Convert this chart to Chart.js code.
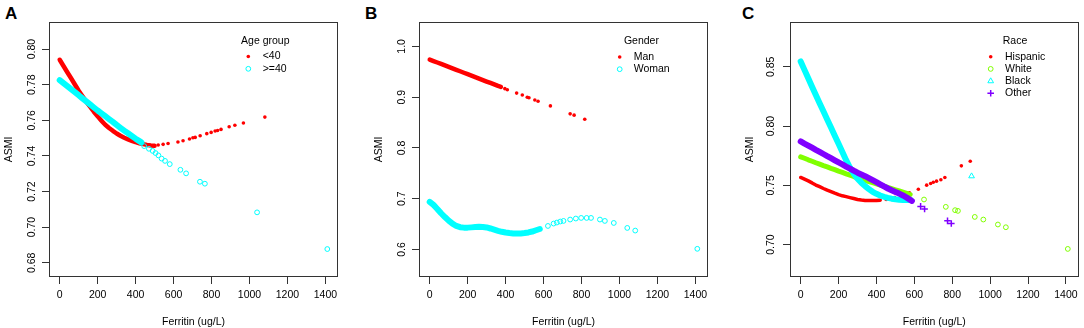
<!DOCTYPE html>
<html>
<head>
<meta charset="utf-8">
<script src="https://cdn.jsdelivr.net/npm/chart.js@4.4.1/dist/chart.umd.min.js"></script>
<style>
  body { margin: 0; background: #fff; width: 1084px; height: 328px; position: relative; overflow: hidden; }
  canvas { position: absolute; top: 0; }
  .tag { position: absolute; top: 5px; font: bold 17px/17px 'Liberation Sans', Arial, sans-serif; color: #000; }
</style>
</head>
<body>
<div class="tag" style="left:5px">A</div>
<div class="tag" style="left:365px">B</div>
<div class="tag" style="left:742px">C</div>
<canvas id="chartA" width="343" height="328" style="left:0px"></canvas>
<canvas id="chartB" width="343" height="328" style="left:370px"></canvas>
<canvas id="chartC" width="343" height="328" style="left:741px"></canvas>
<script>
// shared x axis
var xTicks = [0, 200, 400, 600, 800, 1000, 1200, 1400];

// ---- A: age group ----
var ageTicks = [0.68, 0.70, 0.72, 0.74, 0.76, 0.78, 0.80];
var ageLabels = ['<40', '>=40'];
var under40BandX = [0, 20, 40, 60, 80, 100, 120, 140, 160, 180, 200, 220, 240, 260, 280, 300, 320, 340, 360, 380, 400, 420, 440, 460, 480, 500];
var under40BandY = [0.7940, 0.7905, 0.7870, 0.7836, 0.7801, 0.7766, 0.7735, 0.7705, 0.7676, 0.7648, 0.7622, 0.7598, 0.7575, 0.7557, 0.7541, 0.7526, 0.7513, 0.7502, 0.7493, 0.7485, 0.7477, 0.7471, 0.7466, 0.7462, 0.7459, 0.7457];
var under40TailX = [519, 545, 571, 623, 650, 684, 702, 714, 740, 775, 798, 819, 832, 850, 893, 923, 968, 1081];
var under40TailY = [0.7461, 0.7465, 0.7470, 0.7478, 0.7485, 0.7495, 0.7502, 0.7504, 0.7513, 0.7525, 0.7532, 0.7540, 0.7543, 0.7549, 0.7564, 0.7572, 0.7585, 0.7618];
var over40BandX = [0, 20, 40, 60, 80, 100, 120, 140, 160, 180, 200, 220, 240, 260, 280, 300, 320, 340, 360, 380, 400, 420, 430];
var over40BandY = [0.7826, 0.7809, 0.7792, 0.7775, 0.7758, 0.7741, 0.7723, 0.7706, 0.7689, 0.7672, 0.7655, 0.7639, 0.7623, 0.7607, 0.7591, 0.7574, 0.7558, 0.7542, 0.7527, 0.7512, 0.7497, 0.7483, 0.7476];
var over40TailX = [445, 470, 490, 505, 520, 537, 555, 580, 636, 666, 739, 765, 1040, 1410];
var over40TailY = [0.7455, 0.7440, 0.7428, 0.7416, 0.7403, 0.7385, 0.7372, 0.7354, 0.7322, 0.7302, 0.7255, 0.7244, 0.7083, 0.6877];

// ---- B: gender ----
var genderTicks = [0.6, 0.7, 0.8, 0.9, 1.0];
var genderLabels = ['Man', 'Woman'];
var manBandX = [0, 20, 40, 60, 80, 100, 120, 140, 160, 180, 200, 220, 240, 260, 280, 300, 320, 340, 360, 375];
var manBandY = [0.9740, 0.9711, 0.9683, 0.9654, 0.9625, 0.9596, 0.9567, 0.9539, 0.9510, 0.9481, 0.9452, 0.9424, 0.9395, 0.9366, 0.9337, 0.9308, 0.9280, 0.9251, 0.9222, 0.9204];
var manTailX = [396, 409, 458, 488, 514, 523, 554, 571, 636, 740, 761, 817];
var manTailY = [0.9168, 0.9146, 0.9080, 0.9044, 0.8998, 0.8988, 0.8945, 0.8920, 0.8828, 0.8672, 0.8646, 0.8565];
var womanBandX = [0, 20, 40, 60, 80, 100, 120, 140, 160, 180, 200, 220, 240, 260, 280, 300, 320, 340, 360, 380, 400, 420, 440, 460, 480, 500, 520, 540, 560, 580];
var womanBandY = [0.6940, 0.6880, 0.6800, 0.6715, 0.6640, 0.6570, 0.6510, 0.6465, 0.6440, 0.6432, 0.6432, 0.6437, 0.6443, 0.6447, 0.6445, 0.6435, 0.6415, 0.6392, 0.6370, 0.6350, 0.6335, 0.6325, 0.6318, 0.6316, 0.6318, 0.6325, 0.6337, 0.6355, 0.6380, 0.6405];
var womanTailX = [623, 653, 670, 688, 705, 740, 770, 798, 827, 850, 897, 923, 970, 1041, 1083, 1410];
var womanTailY = [0.6465, 0.6512, 0.6532, 0.6552, 0.6564, 0.6591, 0.6611, 0.6623, 0.6623, 0.6623, 0.6591, 0.6564, 0.6524, 0.6426, 0.6374, 0.6015];

// ---- C: race ----
var raceTicks = [0.70, 0.75, 0.80, 0.85];
var raceLabels = ['Hispanic', 'White', 'Black', 'Other'];
var hispanicBandX = [0, 20, 40, 60, 80, 100, 120, 140, 160, 180, 200, 220, 240, 260, 280, 300, 320, 340, 360, 380, 400, 420];
var hispanicBandY = [0.7566, 0.7552, 0.7537, 0.7520, 0.7502, 0.7488, 0.7473, 0.7459, 0.7446, 0.7433, 0.7421, 0.7411, 0.7404, 0.7396, 0.7388, 0.7380, 0.7375, 0.7372, 0.7371, 0.7371, 0.7372, 0.7374];
var hispanicTailX = [451, 496, 574, 621, 665, 686, 700, 717, 740, 761, 848, 895];
var hispanicTailY = [0.7380, 0.7397, 0.7436, 0.7467, 0.7501, 0.7515, 0.7526, 0.7535, 0.7547, 0.7566, 0.7664, 0.7703];
var whiteBandX = [0, 20, 40, 60, 80, 100, 120, 140, 160, 180, 200, 220, 240, 260, 280, 300, 320, 340, 360, 380, 400, 420, 440, 460, 480, 500, 520, 540, 560, 578];
var whiteBandY = [0.7740, 0.7728, 0.7715, 0.7703, 0.7690, 0.7678, 0.7666, 0.7655, 0.7643, 0.7632, 0.7620, 0.7609, 0.7597, 0.7586, 0.7574, 0.7563, 0.7553, 0.7542, 0.7532, 0.7522, 0.7512, 0.7502, 0.7492, 0.7482, 0.7472, 0.7462, 0.7452, 0.7442, 0.7432, 0.7422];
var whiteTailX = [651, 766, 815, 830, 919, 964, 1041, 1083, 1410];
var whiteTailY = [0.7380, 0.7318, 0.7290, 0.7284, 0.7233, 0.7211, 0.7169, 0.7146, 0.6963];
var blackBandX = [0, 20, 40, 60, 80, 100, 120, 140, 160, 180, 200, 220, 240, 260, 280, 300, 320, 340, 360, 380, 400, 420, 440, 460, 480, 500, 520, 540, 560, 580];
var blackBandY = [0.8545, 0.8474, 0.8403, 0.8332, 0.8262, 0.8192, 0.8124, 0.8055, 0.7987, 0.7918, 0.7850, 0.7780, 0.7712, 0.7650, 0.7598, 0.7556, 0.7522, 0.7493, 0.7468, 0.7445, 0.7428, 0.7414, 0.7403, 0.7394, 0.7387, 0.7382, 0.7378, 0.7376, 0.7375, 0.7375];
var blackTailX = [902];
var blackTailY = [0.7577];
var otherBandX = [0, 20, 40, 60, 80, 100, 120, 140, 160, 180, 200, 220, 240, 260, 280, 300, 320, 340, 360, 380, 400, 420, 440, 460, 480, 500, 520, 540, 560, 587];
var otherBandY = [0.7870, 0.7852, 0.7835, 0.7817, 0.7799, 0.7782, 0.7764, 0.7746, 0.7729, 0.7711, 0.7693, 0.7676, 0.7658, 0.7641, 0.7623, 0.7606, 0.7592, 0.7577, 0.7560, 0.7543, 0.7526, 0.7508, 0.7490, 0.7473, 0.7458, 0.7444, 0.7430, 0.7414, 0.7396, 0.7368];
var otherTailX = [633, 654, 775, 795];
var otherTailY = [0.7322, 0.7300, 0.7200, 0.7177];

var FONT = "'Liberation Sans', Arial, sans-serif";
Chart.defaults.color = '#000';
Chart.defaults.font.family = FONT;

function pts(xs, ys) {
  return xs.map(function (x, i) { return { x: x, y: ys[i] }; });
}

// marker look for each R pch used
var markers = {
  dot:      { pointStyle: 'circle',   radius: 1.8, fill: true,  lw: 0 },
  circle:   { pointStyle: 'circle',   radius: 2.4, fill: false, lw: 1 },
  triangle: { pointStyle: 'triangle', radius: 3.3, fill: false, lw: 1 },
  cross:    { pointStyle: 'cross',    radius: 3.3, fill: false, lw: 1.5 }
};

function drawMarker(ctx, kind, color, x, y) {
  var m = markers[kind];
  ctx.save();
  ctx.strokeStyle = color;
  ctx.fillStyle = color;
  ctx.lineWidth = m.lw;
  ctx.beginPath();
  if (m.pointStyle === 'circle') {
    ctx.arc(x, y, m.radius, 0, Math.PI * 2);
    if (m.fill) ctx.fill(); else ctx.stroke();
  } else if (m.pointStyle === 'triangle') {
    var r = m.radius;
    ctx.moveTo(x, y - r);
    ctx.lineTo(x + r * 0.866, y + r * 0.5);
    ctx.lineTo(x - r * 0.866, y + r * 0.5);
    ctx.closePath();
    ctx.stroke();
  } else {
    ctx.moveTo(x - m.radius, y); ctx.lineTo(x + m.radius, y);
    ctx.moveTo(x, y - m.radius); ctx.lineTo(x, y + m.radius);
    ctx.stroke();
  }
  ctx.restore();
}

function makePanel(id, cfg) {
  var datasets = [];
  cfg.series.forEach(function (s, i) {
    var m = markers[s.marker];
    var order = cfg.series.length - i;
    datasets.push({
      label: s.label + ' band',
      data: pts(s.bandX, s.bandY),
      showLine: true,
      borderColor: s.color,
      borderWidth: s.band,
      borderCapStyle: 'round',
      borderJoinStyle: 'round',
      pointRadius: 0,
      order: order
    });
    datasets.push({
      label: s.label,
      data: pts(s.tailX, s.tailY),
      pointStyle: m.pointStyle,
      pointRadius: m.radius,
      pointBorderWidth: m.lw,
      pointBorderColor: s.color,
      pointBackgroundColor: m.fill ? s.color : 'rgba(0,0,0,0)',
      order: order
    });
  });

  var boxAndLegend = {
    id: 'boxAndLegend',
    afterDraw: function (chart) {
      var a = chart.chartArea, ctx = chart.ctx;
      ctx.save();
      ctx.strokeStyle = '#333';
      ctx.lineWidth = 1;
      ctx.strokeRect(Math.round(a.left) + 0.5, Math.round(a.top) + 0.5,
        Math.round(a.right - a.left) - 1, Math.round(a.bottom - a.top) - 1);
      ctx.font = '10.5px ' + FONT;
      ctx.fillStyle = '#000';
      ctx.textBaseline = 'middle';
      ctx.textAlign = 'center';
      ctx.fillText(cfg.legendTitle, a.left + cfg.leg.titleX, 41);
      ctx.textAlign = 'left';
      cfg.series.forEach(function (s, i) {
        var y = cfg.leg.rowY + i * cfg.leg.gap;
        drawMarker(ctx, s.marker, s.color, a.left + cfg.leg.symX, y);
        ctx.fillStyle = '#000';
        ctx.fillText(s.label, a.left + cfg.leg.textX, y);
      });
      ctx.restore();
    }
  };

  var tickFont = { family: FONT, size: 10.5 };
  var gridOpts = { drawOnChartArea: false, drawTicks: true, tickLength: 7, color: '#333' };

  return new Chart(document.getElementById(id), {
    type: 'scatter',
    data: { datasets: datasets },
    options: {
      responsive: false,
      animation: false,
      events: [],
      layout: { padding: { left: 0, top: 22, right: 2.5, bottom: 0 } },
      plugins: { legend: { display: false }, tooltip: { enabled: false } },
      scales: {
        x: {
          type: 'linear', min: -56.4, max: 1466.4,
          afterBuildTicks: function (s) { s.ticks = xTicks.map(function (v) { return { value: v }; }); },
          afterFit: function (s) { s.height = 51; },
          ticks: {
            font: tickFont, color: '#000', padding: 5, maxRotation: 0, minRotation: 0, autoSkip: false,
            callback: function (v) { return String(v); }
          },
          grid: gridOpts,
          border: { display: false },
          title: { display: true, text: 'Ferritin (ug/L)', font: tickFont, color: '#000', padding: { top: 0, bottom: 0 } }
        },
        y: {
          type: 'linear', min: cfg.yMin, max: cfg.yMax,
          afterBuildTicks: function (s) { s.ticks = cfg.yTicks.map(function (v) { return { value: v }; }); },
          afterFit: function (s) { s.width = 49; },
          ticks: {
            font: tickFont, color: '#000', padding: cfg.tickPad, minRotation: 90, maxRotation: 90,
            crossAlign: 'center', autoSkip: false,
            callback: function (v) { return Number(v).toFixed(cfg.dec); }
          },
          grid: gridOpts,
          border: { display: false },
          title: { display: true, text: 'ASMI', font: tickFont, color: '#000', padding: { top: 3, bottom: 0 } }
        }
      }
    },
    plugins: [boxAndLegend]
  });
}

makePanel('chartA', {
  yMin: 0.6720, yMax: 0.8152, yTicks: ageTicks, dec: 2, tickPad: 0,
  legendTitle: 'Age group',
  leg: { titleX: 216.3, symX: 199.3, textX: 213.7, rowY: 56.5, gap: 12.3 },
  series: [
    { label: ageLabels[0], color: '#FF0000', marker: 'dot', band: 4.5, bandX: under40BandX, bandY: under40BandY, tailX: under40TailX, tailY: under40TailY },
    { label: ageLabels[1], color: '#00FFFF', marker: 'circle', band: 6, bandX: over40BandX, bandY: over40BandY, tailX: over40TailX, tailY: over40TailY }
  ]
});

makePanel('chartB', {
  yMin: 0.546, yMax: 1.048, yTicks: genderTicks, dec: 1, tickPad: 3,
  legendTitle: 'Gender',
  leg: { titleX: 222.4, symX: 200.7, textX: 214.7, rowY: 57, gap: 12.2 },
  series: [
    { label: genderLabels[0], color: '#FF0000', marker: 'dot', band: 4.5, bandX: manBandX, bandY: manBandY, tailX: manTailX, tailY: manTailY },
    { label: genderLabels[1], color: '#00FFFF', marker: 'circle', band: 6, bandX: womanBandX, bandY: womanBandY, tailX: womanTailX, tailY: womanTailY }
  ]
});

makePanel('chartC', {
  yMin: 0.6726, yMax: 0.8878, yTicks: raceTicks, dec: 2, tickPad: 1.5,
  legendTitle: 'Race',
  leg: { titleX: 225, symX: 200.7, textX: 215, rowY: 56.7, gap: 12.2 },
  series: [
    { label: raceLabels[0], color: '#FF0000', marker: 'dot', band: 3.5, bandX: hispanicBandX, bandY: hispanicBandY, tailX: hispanicTailX, tailY: hispanicTailY },
    { label: raceLabels[1], color: '#80FF00', marker: 'circle', band: 5, bandX: whiteBandX, bandY: whiteBandY, tailX: whiteTailX, tailY: whiteTailY },
    { label: raceLabels[2], color: '#00FFFF', marker: 'triangle', band: 6, bandX: blackBandX, bandY: blackBandY, tailX: blackTailX, tailY: blackTailY },
    { label: raceLabels[3], color: '#8000FF', marker: 'cross', band: 6, bandX: otherBandX, bandY: otherBandY, tailX: otherTailX, tailY: otherTailY }
  ]
});
</script>
</body>
</html>
